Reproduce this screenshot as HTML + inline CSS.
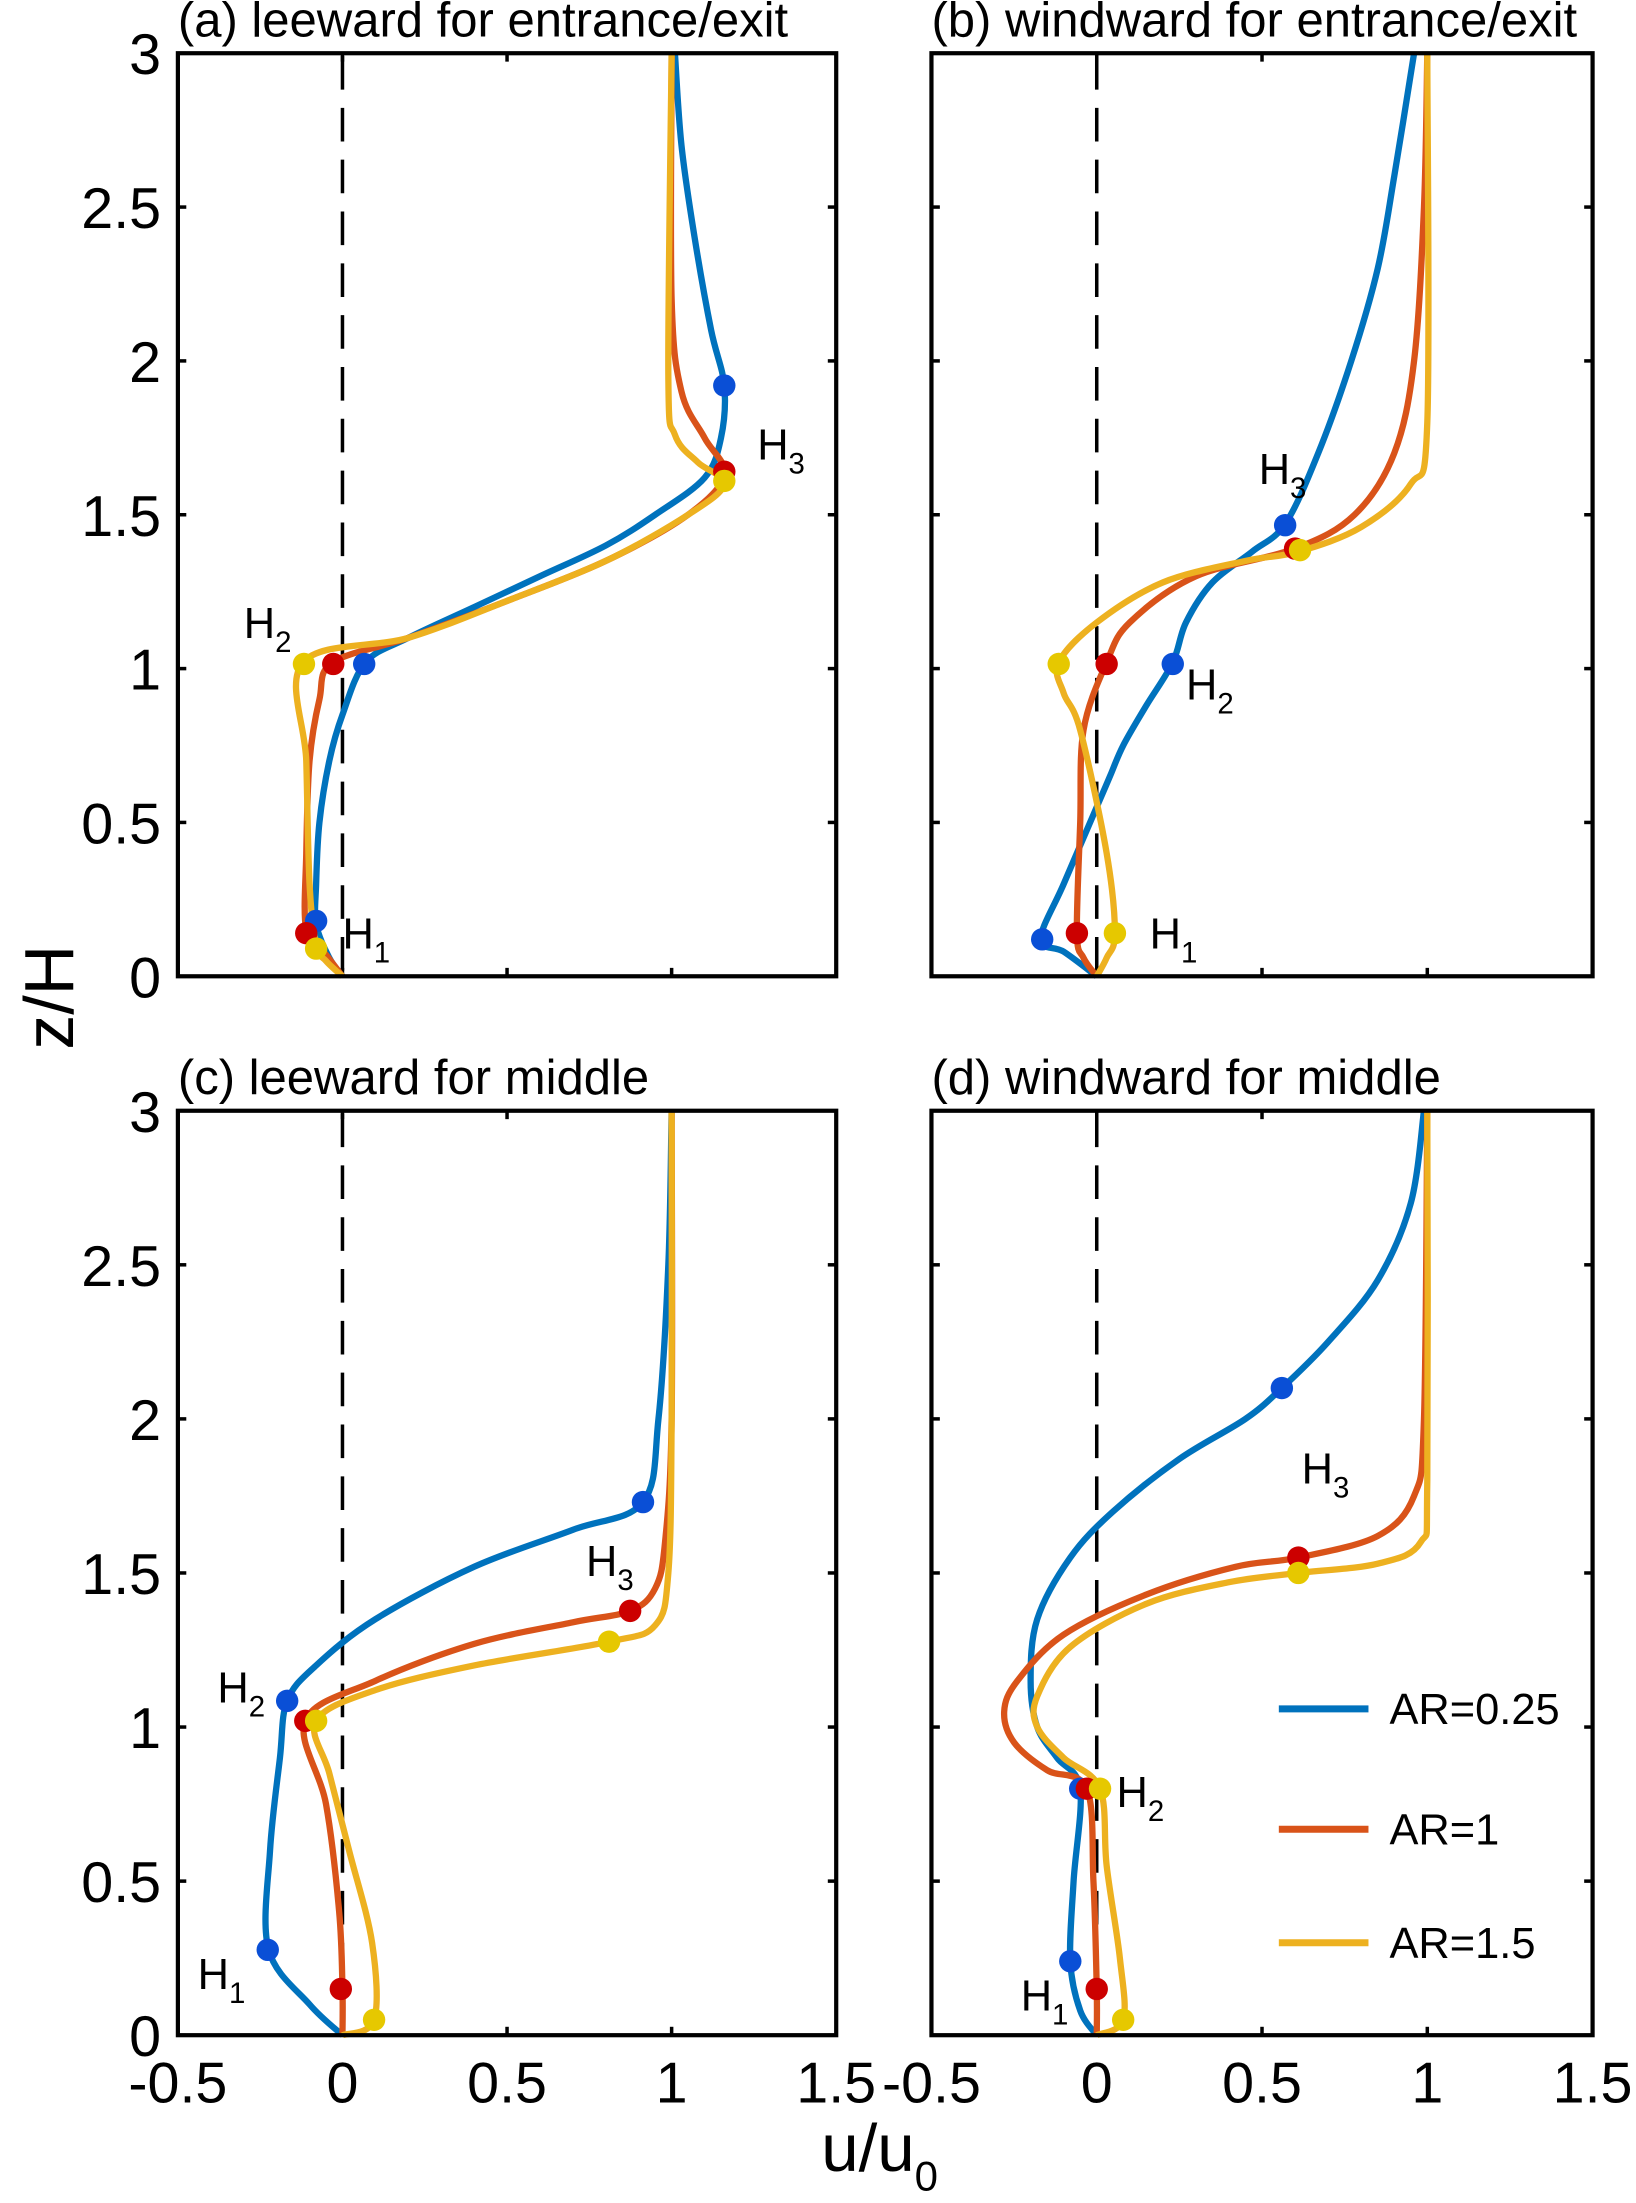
<!DOCTYPE html>
<html><head><meta charset="utf-8"><style>
html,body{margin:0;padding:0;background:#fff;}
svg{display:block;font-family:"Liberation Sans",Arial,sans-serif;}
</style></head><body>
<svg id="chart" width="1636" height="2203" viewBox="0 0 1168 1572.8" preserveAspectRatio="none" xmlns="http://www.w3.org/2000/svg">
<text x="0" y="0" transform="translate(52,712) rotate(-90)" text-anchor="middle" font-size="50">z/H</text>
<text x="628" y="1550" text-anchor="middle" font-size="48">u/u<tspan font-size="30" dy="14">0</tspan></text>
</svg>
<script>
const colors = ['#0072BD','#D95319','#EDB120'];
const markerColors = ['#0a4fd6','#cc0000','#e6c800'];
const seriesNames = ['AR=0.25','AR=1','AR=1.5'];
const xTicks = [-0.5,0,0.5,1,1.5];
const xTickLabels = ['-0.5','0','0.5','1','1.5'];
const yTicks = [0,0.5,1,1.5,2,2.5,3];
const yTickLabels = ['0','0.5','1','1.5','2','2.5','3'];
const panelTitles = ['(a) leeward for entrance/exit','(b) windward for entrance/exit','(c) leeward for middle','(d) windward for middle'];

// curves: [u, z] pairs
const aBlue = [[0,0],[-0.04,0.06],[-0.08,0.17],[-0.08,0.3],[-0.07,0.5],[-0.04,0.7],[0,0.85],[0.07,1.02],[0.2,1.1],[0.4,1.2],[0.6,1.3],[0.8,1.4],[0.95,1.5],[1.1,1.62],[1.15,1.75],[1.16,1.92],[1.12,2.1],[1.07,2.4],[1.03,2.7],[1.01,3]];
const aRed = [[0,0],[-0.05,0.07],[-0.11,0.15],[-0.11,0.4],[-0.1,0.7],[-0.07,0.9],[-0.03,1.02],[0.2,1.1],[0.5,1.22],[0.8,1.35],[1.05,1.5],[1.16,1.63],[1.1,1.75],[1.03,1.9],[1.0,2.2],[1.0,3]];
const aYellow = [[0,0],[-0.05,0.05],[-0.08,0.1],[-0.1,0.3],[-0.11,0.7],[-0.12,1.02],[0.2,1.1],[0.5,1.22],[0.8,1.35],[1.05,1.5],[1.16,1.6],[1.08,1.67],[1.01,1.76],[0.99,1.95],[1.0,3]];
const bBlue = [[0,0],[-0.1,0.08],[-0.17,0.12],[-0.1,0.3],[0,0.55],[0.04,0.65],[0.08,0.75],[0.15,0.88],[0.23,1.02],[0.27,1.15],[0.35,1.28],[0.47,1.38],[0.57,1.47],[0.67,1.7],[0.77,2.0],[0.85,2.3],[0.9,2.6],[0.96,3]];
const bRed = [[0,0],[-0.04,0.06],[-0.06,0.14],[-0.05,0.5],[-0.04,0.8],[0.03,1.02],[0.1,1.15],[0.3,1.3],[0.6,1.39],[0.78,1.5],[0.9,1.7],[0.96,2.0],[0.99,2.5],[1.0,3]];
const bYellow = [[0,0],[0.03,0.06],[0.055,0.14],[0.03,0.4],[-0.05,0.8],[-0.1,0.92],[-0.115,1.02],[0,1.15],[0.2,1.28],[0.45,1.35],[0.61,1.38],[0.8,1.46],[0.95,1.6],[1.0,1.8],[1.0,3]];
const cBlue = [[0,0],[-0.1,0.1],[-0.225,0.28],[-0.22,0.6],[-0.19,0.9],[-0.168,1.085],[-0.08,1.2],[0.1,1.35],[0.4,1.52],[0.7,1.64],[0.913,1.73],[0.96,2.0],[0.99,2.5],[1.0,3]];
const cRed = [[0,0],[0,0.15],[-0.01,0.4],[-0.05,0.75],[-0.113,1.02],[0.1,1.15],[0.4,1.27],[0.7,1.34],[0.874,1.377],[0.95,1.45],[0.98,1.6],[1.0,2.0],[1.0,3]];
const cYellow = [[0,0],[0.096,0.05],[0.09,0.3],[0.02,0.6],[-0.04,0.85],[-0.08,1.02],[0.1,1.12],[0.4,1.2],[0.81,1.277],[0.95,1.33],[0.99,1.5],[1.0,2],[1.0,3]];
const dBlue = [[0,0],[-0.05,0.08],[-0.08,0.24],[-0.07,0.5],[-0.05,0.8],[-0.12,0.9],[-0.18,1.0],[-0.2,1.15],[-0.18,1.35],[-0.08,1.55],[0.05,1.7],[0.25,1.87],[0.45,2.0],[0.56,2.1],[0.7,2.25],[0.85,2.45],[0.95,2.7],[0.99,3]];
const dRed = [[0,0],[0,0.15],[-0.01,0.5],[-0.03,0.8],[-0.15,0.86],[-0.25,0.95],[-0.28,1.05],[-0.24,1.15],[-0.1,1.3],[0.15,1.43],[0.42,1.52],[0.61,1.55],[0.85,1.62],[0.96,1.75],[0.99,2.0],[1.0,3]];
const dYellow = [[0,0],[0.08,0.05],[0.07,0.25],[0.03,0.55],[0.01,0.8],[-0.1,0.9],[-0.18,1.0],[-0.18,1.1],[-0.08,1.26],[0.15,1.4],[0.4,1.47],[0.61,1.5],[0.85,1.53],[0.98,1.6],[1.0,1.8],[1.0,3]];

// markers: [u, z] per series
const aMarkers = [[[1.16,1.92],[0.066,1.015],[-0.08,0.18]],[[1.16,1.64],[-0.028,1.015],[-0.11,0.14]],[[1.16,1.61],[-0.117,1.015],[-0.08,0.09]]];
const bMarkers = [[[0.57,1.466],[0.23,1.015],[-0.165,0.12]],[[0.6,1.39],[0.03,1.015],[-0.06,0.14]],[[0.615,1.385],[-0.115,1.015],[0.055,0.14]]];
const cMarkers = [[[0.913,1.73],[-0.168,1.085],[-0.227,0.277]],[[0.874,1.377],[-0.113,1.02],[-0.005,0.15]],[[0.81,1.277],[-0.08,1.02],[0.096,0.05]]];
const dMarkers = [[[0.56,2.1],[-0.05,0.8],[-0.08,0.24]],[[0.61,1.55],[-0.03,0.8],[0.0,0.15]],[[0.61,1.5],[0.01,0.8],[0.08,0.05]]];

// H labels [u, z, subscript]
const aLabels = [[1.26,1.68,'3'],[-0.30,1.10,'2'],[0.0,0.09,'1']];
const bLabels = [[0.49,1.60,'3'],[0.27,0.90,'2'],[0.16,0.09,'1']];
const cLabels = [[0.74,1.49,'3'],[-0.38,1.08,'2'],[-0.44,0.15,'1']];
const dLabels = [[0.62,1.79,'3'],[0.06,0.74,'2'],[-0.23,0.08,'1']];

const panels = [
  {box:[127,38,597,697], curves:[aBlue,aRed,aYellow], markers:aMarkers, labels:aLabels, yLabels:true, xLabels:false},
  {box:[665,38,1137,697], curves:[bBlue,bRed,bYellow], markers:bMarkers, labels:bLabels, yLabels:false, xLabels:false},
  {box:[127,793,597,1453], curves:[cBlue,cRed,cYellow], markers:cMarkers, labels:cLabels, yLabels:true, xLabels:true},
  {box:[665,793,1137,1453], curves:[dBlue,dRed,dYellow], markers:dMarkers, labels:dLabels, yLabels:false, xLabels:true}
];

const svg = document.getElementById('chart');
const NS = 'http://www.w3.org/2000/svg';
function mk(tag, attrs, parent){ const e=document.createElementNS(NS,tag); for(const k in attrs) e.setAttribute(k,attrs[k]); (parent||svg).appendChild(e); return e; }

function smoothPath(pts){
  let d='M'+pts[0][0].toFixed(2)+','+pts[0][1].toFixed(2);
  for(let i=0;i<pts.length-1;i++){
    const p0=pts[Math.max(0,i-1)],p1=pts[i],p2=pts[i+1],p3=pts[Math.min(pts.length-1,i+2)];
    const c1=[p1[0]+(p2[0]-p0[0])/6,p1[1]+(p2[1]-p0[1])/6];
    const c2=[p2[0]-(p3[0]-p1[0])/6,p2[1]-(p3[1]-p1[1])/6];
    d+=' C'+c1[0].toFixed(2)+','+c1[1].toFixed(2)+' '+c2[0].toFixed(2)+','+c2[1].toFixed(2)+' '+p2[0].toFixed(2)+','+p2[1].toFixed(2);
  }
  return d;
}

panels.forEach((p,pi)=>{
  const [x0,y0,x1,y1]=p.box;
  const xs = u => x0 + (u+0.5)/2*(x1-x0);
  const ys = z => y1 - z/3*(y1-y0);
  const g = mk('g',{});
  
  
  const t = mk('text',{x:x0,y:y0-12,'font-size':35},g);
  
  
  t.textContent = panelTitles[pi];
  const dl = mk('line',{x1:xs(0),x2:xs(0),y1:y0+2,y2:y1,stroke:'#000','stroke-width':2.5,'stroke-dasharray':'24,13'},g);
  
  
  xTicks.forEach((v,i)=>{
    mk('line',{x1:xs(v),x2:xs(v),y1:y1,y2:y1-6,stroke:'#000','stroke-width':2.5},g);
    mk('line',{x1:xs(v),x2:xs(v),y1:y0,y2:y0+6,stroke:'#000','stroke-width':2.5},g);
    if(p.xLabels){
      const tl = mk('text',{x:xs(v),y:y1+48,'text-anchor':'middle','font-size':41},g);
      
      
      tl.textContent = xTickLabels[i];
    }
  });
  yTicks.forEach((v,i)=>{
    mk('line',{x1:x0,x2:x0+6,y1:ys(v),y2:ys(v),stroke:'#000','stroke-width':2.5},g);
    mk('line',{x1:x1,x2:x1-6,y1:ys(v),y2:ys(v),stroke:'#000','stroke-width':2.5},g);
    if(p.yLabels){
      const tl = mk('text',{x:x0-12,y:ys(v)+15,'text-anchor':'end','font-size':41},g);
      
      
      tl.textContent = yTickLabels[i];
    }
  });
  p.curves.forEach((c,si)=>{
    const pts = c.map(q=>[xs(q[0]),ys(q[1])]);
    const path = mk('path',{d:smoothPath(pts),fill:'none',stroke:colors[si],'stroke-width':4.5,'stroke-linejoin':'round'},g);
    
    
  });
  p.markers.forEach((ms,si)=>{
    ms.forEach(m=>{
      const c = mk('circle',{cx:xs(m[0]),cy:ys(m[1]),r:8,fill:markerColors[si]},g);
      
      
    });
  });
  p.labels.forEach(l=>{
    const tx = mk('text',{x:xs(l[0]),y:ys(l[1]),'font-size':31},g);
    
    
    tx.textContent='H';
    const sub = mk('tspan',{'font-size':21,dy:10},tx);
    sub.textContent=l[2];
  });
  const fr = mk('rect',{x:x0,y:y0,width:x1-x0,height:y1-y0,fill:'none',stroke:'#000','stroke-width':3},g);
  
  
});

const legendY = [1220,1306,1387];
seriesNames.forEach((n,i)=>{
  const lg = mk('g',{});
  
  
  mk('line',{x1:913,x2:977,y1:legendY[i],y2:legendY[i],stroke:colors[i],'stroke-width':5},lg);
  const t = mk('text',{x:992,y:legendY[i]+11,'font-size':31},lg);
  t.textContent = n;
});
</script>
</body></html>
